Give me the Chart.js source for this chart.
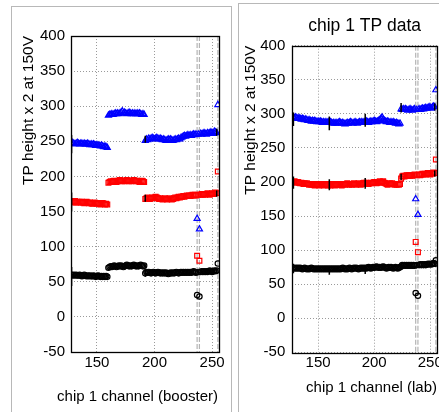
<!DOCTYPE html>
<html><head><meta charset="utf-8">
<script src="https://cdn.jsdelivr.net/npm/chart.js@4/dist/chart.umd.min.js"></script>
<style>
html,body{margin:0;padding:0;width:439px;height:412px;overflow:hidden;background:#fff;}
.box{position:absolute;border:1px solid #b8b8b8;box-sizing:border-box;}
canvas{position:absolute;}
</style></head><body>
<div class="box" style="left:11px;top:6px;width:221px;height:420px"></div>
<div class="box" style="left:238px;top:3px;width:260px;height:420px"></div>
<canvas id="c1" width="219" height="405" style="left:12px;top:7px"></canvas>
<canvas id="c2" width="251" height="408" style="left:239px;top:4px"></canvas>
<script>
const channels = [128,129,130,131,132,133,134,135,136,137,138,139,140,141,142,143,144,145,146,147,148,149,150,151,152,153,154,155,156,157,158,159,
160,161,162,163,164,165,166,167,168,169,170,171,172,173,174,175,176,177,178,179,180,181,182,183,184,185,186,187,188,189,190,191,
192,193,194,195,196,197,198,199,200,201,202,203,204,205,206,207,208,209,210,211,212,213,214,215,216,217,218,219,220,221,222,223,
224,225,226,227,228,229,230,231,232,233,234,235,236,237,238,239,240,241,242,243,244,245,246,247,248,249,250,251,252,253,254,255];

// booster (left panel)
const boosterBlue = [247,248,247,246,247,248,247,246,247,247,246,247,246,246,247,246,245,246,245,246,245,244,245,244,244,243,244,243,242,243,242,241,
287,288,288,289,288,289,290,289,290,289,290,291,293,290,291,290,289,290,291,290,289,290,289,290,289,290,289,290,289,288,289,288,
251,253,252,254,253,254,255,254,253,254,255,254,253,254,253,252,253,252,251,252,253,252,253,252,251,252,253,252,253,254,253,255,
256,257,258,257,258,259,258,259,258,259,260,259,260,140,260,125,261,260,261,262,261,260,262,261,262,263,262,261,264,263,262,302];
const boosterRed = [164,163,164,165,163,164,163,164,163,164,163,162,163,164,163,162,163,162,161,162,163,162,161,162,161,160,161,162,161,160,161,160,
191,192,193,192,193,194,193,192,193,194,195,194,193,194,193,194,195,194,193,194,193,194,195,194,193,194,193,192,193,194,193,192,
168,169,170,169,168,169,170,169,170,171,170,169,168,169,168,167,168,169,168,167,168,169,168,167,168,169,170,169,170,171,170,171,
171,172,171,172,173,172,173,172,173,174,173,174,173,87,174,80,174,175,174,175,174,175,176,175,174,175,176,175,176,177,176,207];
const boosterBlack = [60,59,60,59,60,59,59,60,59,58,59,60,59,58,59,58,59,58,58,59,58,57,58,59,58,57,58,57,58,57,58,57,
70,71,72,71,72,73,72,71,72,73,72,73,72,71,72,73,74,73,72,73,72,73,74,73,72,73,72,73,74,73,72,73,
62,64,63,64,63,62,63,64,63,62,63,64,63,62,63,62,63,62,63,62,61,62,63,62,63,62,63,64,63,62,63,64,
63,64,63,64,63,64,63,64,63,64,65,64,63,31,64,29,64,65,64,65,64,65,64,65,66,65,64,65,66,65,66,76];

// lab (right panel)
const labBlue = [295,294,295,294,293,294,293,292,293,292,291,292,291,290,291,290,289,290,289,290,289,288,289,288,289,288,287,288,287,288,287,288,
287,288,287,286,287,286,287,286,287,288,287,286,287,286,285,286,287,286,287,288,287,286,287,288,287,286,287,288,287,288,287,288,
288,289,288,287,288,289,288,289,290,289,288,289,290,291,293,295,292,290,289,288,289,288,287,288,287,288,287,286,287,286,285,286,
307,306,307,306,307,306,305,306,307,306,305,306,307,175,306,152,307,306,307,308,307,308,309,308,309,310,309,308,310,311,310,335];
const labRed = [200,201,200,199,200,199,198,199,198,197,198,197,198,197,196,197,196,197,196,195,196,197,196,195,196,197,196,195,196,197,196,195,
196,195,196,197,196,195,196,197,196,197,196,195,196,197,196,197,198,197,196,197,196,197,198,197,196,197,198,197,196,197,198,199,
198,199,198,197,198,199,198,199,200,199,198,199,200,201,199,200,201,199,198,197,196,197,198,197,198,197,196,197,196,197,196,197,
205,208,209,208,209,210,209,210,209,210,209,210,211,112,210,97,211,210,211,212,211,212,211,212,213,212,211,213,212,214,213,233];
const labBlack = [74,73,74,73,74,73,74,73,72,73,74,73,72,73,72,73,74,73,72,73,72,73,72,73,72,73,72,73,72,73,72,73,
72,73,72,73,72,73,72,73,72,73,72,73,74,73,72,73,72,73,74,73,72,73,74,73,74,73,72,73,74,73,74,73,
74,73,74,75,74,73,74,75,74,75,76,75,74,75,74,75,76,75,74,73,74,75,74,75,74,73,74,75,74,73,74,75,
76,78,77,78,77,78,77,78,77,78,77,78,77,37,78,33,78,79,78,79,78,79,78,79,80,79,80,79,80,81,80,85];

// error bars
const boosterErrCh = [128,192,254];
const boosterErrLo = [[233,248,258],[150,164,171],[44,57,61]];
const boosterErrHi = [[259,258,268],[177,174,180],[71,68,68]];
const labErrCh = [128,160,192,224,254];
const labErrLo = [[282,276,281,302,305],[190,188,190,203,208],[66,64,65,72,76]];
const labErrHi = [[302,296,300,316,315],[208,204,206,212,217],[80,75,76,80,84]];

const markCh = [237,239,255];
const xTicks = [150,200,250];
const yTicks = [-50,0,50,100,150,200,250,300,350,400];

const FAM = '"Liberation Sans", Arial, Helvetica, sans-serif';

const framePlugin = {
  id:'frame',
  beforeDatasetsDraw(chart, args, opts){
    const {ctx, chartArea:a, scales:{x}} = chart;
    ctx.save();
    ctx.strokeStyle = '#b4b4b4'; ctx.lineWidth = 1.2; ctx.setLineDash([5,2]);
    for (const c of opts.marks) {
      const px = x.getPixelForValue(c);
      ctx.beginPath(); ctx.moveTo(px, a.top); ctx.lineTo(px, a.bottom); ctx.stroke();
    }
    ctx.restore();
  },
  afterDraw(chart, args, opts){
    const {ctx, chartArea:a} = chart;
    ctx.save();
    ctx.strokeStyle = '#000'; ctx.lineWidth = 1.3; ctx.setLineDash([]);
    ctx.strokeRect(Math.round(a.left)+0.5, Math.round(a.top)+0.5, Math.round(a.right-a.left), Math.round(a.bottom-a.top));
    // x axis title (drawn without width compression)
    ctx.fillStyle = '#000';
    ctx.font = '15px ' + FAM;
    ctx.textAlign = 'right';
    ctx.textBaseline = 'middle';
    ctx.fillText(opts.xtitle, opts.xtitleX, opts.xtitleY);
    ctx.restore();
  }
};

function pts(vals){ return channels.map((c,i)=>({x:c, y:vals[i]})); }
function errPts(ch, lo, hi){
  const out = [];
  for (let s=0; s<lo.length; s++) for (let i=0;i<ch.length;i++){
    out.push({x:ch[i], y:lo[s][i]}, {x:ch[i], y:hi[s][i]}, {x:ch[i], y:null});
  }
  return out;
}

function makeChart(id, o){
  const font = {family:FAM, size:15};
  return new Chart(document.getElementById(id), {
    type:'scatter',
    data:{datasets:[
      {type:'line', data:errPts(o.errCh,o.errLo,o.errHi), borderColor:'#000', borderWidth:1.5, pointRadius:0, spanGaps:false, fill:false},
      {data:pts(o.black), pointStyle:'circle', pointRadius:2.7, borderColor:'#000', backgroundColor:'rgba(0,0,0,0)', borderWidth:1.2},
      {data:pts(o.red), pointStyle:'rect', pointRadius:3.4, borderColor:'#ff0000', backgroundColor:'rgba(0,0,0,0)', borderWidth:1.2},
      {data:pts(o.blue), pointStyle:'triangle', pointRadius:3.5, borderColor:'#0000ff', backgroundColor:'rgba(0,0,0,0)', borderWidth:1.2}
    ]},
    options:{
      responsive:false, animation:false, devicePixelRatio:1,
      layout:{padding:o.pad},
      plugins:{
        legend:{display:false}, tooltip:{enabled:false},
        title: o.title ? {display:true, text:o.title, fullSize:false, color:'#000', font:{family:FAM, size:17.5, weight:'normal'}, padding:{top:o.titlePadTop, bottom:o.titlePadBottom}} : {display:false},
        frame:{marks:markCh, xtitle:o.xtitle, xtitleX:o.xtitleX, xtitleY:o.xtitleY}
      },
      scales:{
        x:{type:'linear', min:o.xmin, max:256,
          afterBuildTicks:s=>{s.ticks = xTicks.map(v=>({value:v}));},
          afterFit:s=>{s.height=o.xh;},
          ticks:{font, color:'#000', padding:o.xtp, maxRotation:0, autoSkip:false},
          grid:{color:'#9a9a9a', drawTicks:false, lineWidth:1},
          border:{display:false, dash:[1,2]},
          title:{display:false}
        },
        y:{type:'linear', min:-50, max:400,
          afterBuildTicks:s=>{s.ticks = yTicks.map(v=>({value:v}));},
          afterFit:s=>{s.width=o.yw;},
          ticks:{font, color:'#000', padding:o.ytp},
          grid:{color:'#9a9a9a', drawTicks:false, lineWidth:1},
          border:{display:false, dash:[1,2]},
          title:{display:true, text:'TP height x 2 at 150V', align:'end', color:'#000', font:{family:FAM, size:15.5}, padding:{top:o.ytitlePad, bottom:0}}
        }
      }
    },
    plugins:[framePlugin]
  });
}

makeChart('c1', {blue:boosterBlue, red:boosterRed, black:boosterBlack,
  errCh:boosterErrCh, errLo:boosterErrLo, errHi:boosterErrHi,
  pad:{left:0,right:12,top:29,bottom:0}, xmin:127.5, xh:60, xtp:2, yw:59, ytp:6,
  xtitle:'chip 1 channel (booster)', xtitleX:206, xtitleY:389.5, ytitlePad:7});

makeChart('c2', {blue:labBlue, red:labRed, black:labBlack,
  errCh:labErrCh, errLo:labErrLo, errHi:labErrHi,
  pad:{left:0,right:53,top:0,bottom:0}, xmin:127, xh:59.7, xtp:2, yw:53.3, ytp:7,
  xtitle:'chip 1 channel (lab)', xtitleX:198, xtitleY:384, ytitlePad:2.3,
  title:'chip 1 TP data', titlePadTop:12.1, titlePadBottom:8.6});
</script>
</body></html>
